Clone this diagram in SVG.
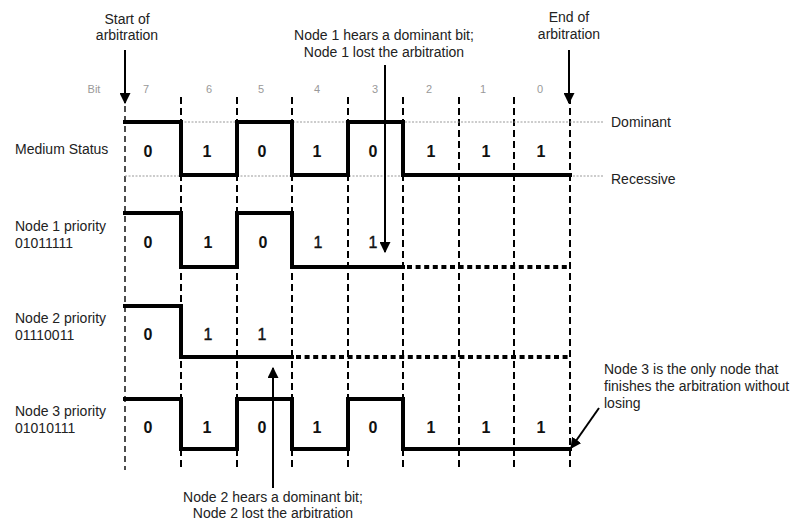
<svg xmlns="http://www.w3.org/2000/svg" width="797" height="522" viewBox="0 0 797 522">
  <defs>
    <marker id="head" viewBox="0 0 10 10" refX="9" refY="5" markerWidth="5.5" markerHeight="5.5" orient="auto" markerUnits="strokeWidth">
      <path d="M0,0 L10,5 L0,10 z" fill="#000"/>
    </marker>
    <style>
      text { font-family: "Liberation Sans", Arial, sans-serif; fill: #222; }
      .lbl { font-size: 14px; }
      .note { font-size: 14px; text-anchor: middle; }
      .bitno { font-size: 11px; fill: #999; text-anchor: middle; }
      .val { font-size: 16px; font-weight: bold; text-anchor: middle; fill: #111; }
      .valn { font-size: 16px; text-anchor: middle; fill: #111; stroke: #111; stroke-width: 0.4; }
      .grid { stroke: #000; stroke-width: 2; stroke-dasharray: 7 4; fill: none; }
      .grid0 { stroke: #000; stroke-width: 1.4; stroke-dasharray: 6 4; fill: none; }
      .level { stroke: #999; stroke-width: 1; stroke-dasharray: 2 1.5; fill: none; }
      .wave { stroke: #000; stroke-width: 4; fill: none; stroke-linejoin: miter; stroke-linecap: square; }
      .lost { stroke: #000; stroke-width: 4; stroke-dasharray: 5 3.6; fill: none; }
      .arrow { stroke: #000; stroke-width: 2; fill: none; }
    </style>
  </defs>

  <!-- bit time slot boundaries -->
  <g id="grid">
    <line class="grid0" x1="125" y1="106" x2="125" y2="470"/>
    <line class="grid" x1="181" y1="97" x2="181" y2="470"/>
    <line class="grid" x1="237" y1="97" x2="237" y2="470"/>
    <line class="grid" x1="292" y1="97" x2="292" y2="470"/>
    <line class="grid" x1="348" y1="97" x2="348" y2="470"/>
    <line class="grid" x1="403" y1="97" x2="403" y2="470"/>
    <line class="grid" x1="459" y1="97" x2="459" y2="470"/>
    <line class="grid" x1="514" y1="97" x2="514" y2="470"/>
    <line class="grid" x1="570" y1="97" x2="570" y2="470"/>
  </g>

  <!-- bit numbers -->
  <g id="bit-numbers">
    <text class="bitno" x="94" y="93">Bit</text>
    <text class="bitno" x="146" y="93">7</text>
    <text class="bitno" x="209" y="93">6</text>
    <text class="bitno" x="261" y="93">5</text>
    <text class="bitno" x="317" y="93">4</text>
    <text class="bitno" x="375" y="93">3</text>
    <text class="bitno" x="429" y="93">2</text>
    <text class="bitno" x="483" y="93">1</text>
    <text class="bitno" x="540" y="93">0</text>
  </g>

  <!-- bus levels -->
  <g id="levels">
    <line class="level" x1="125" y1="122" x2="604" y2="122"/>
    <line class="level" x1="125" y1="176" x2="604" y2="176"/>
    <text class="lbl" x="611" y="127">Dominant</text>
    <text class="lbl" x="611" y="184">Recessive</text>
  </g>

  <!-- medium status -->
  <g id="medium">
    <text class="lbl" x="15" y="154">Medium Status</text>
    <path class="wave" d="M125,122 H181 V175 H237 V122 H292 V175 H348 V122 H403 V175 H570"/>
    <text class="val" x="148" y="157">0</text>
    <text class="val" x="207" y="157">1</text>
    <text class="val" x="262" y="157">0</text>
    <text class="val" x="317" y="157">1</text>
    <text class="val" x="373" y="157">0</text>
    <text class="val" x="431" y="157">1</text>
    <text class="val" x="486" y="157">1</text>
    <text class="val" x="541" y="157">1</text>
  </g>

  <!-- node 1 -->
  <g id="node1">
    <text class="lbl" x="15" y="231">Node 1 priority</text>
    <text class="lbl" x="15" y="248">01011111</text>
    <path class="wave" d="M125,213 H181 V267 H237 V213 H292 V267 H403"/>
    <line class="lost" x1="407" y1="267" x2="570" y2="267"/>
    <text class="val" x="148" y="248">0</text>
    <text class="val" x="208" y="248">1</text>
    <text class="val" x="263" y="248">0</text>
    <text class="valn" x="318" y="248">1</text>
    <text class="valn" x="373" y="248">1</text>
  </g>

  <!-- node 2 -->
  <g id="node2">
    <text class="lbl" x="15" y="323">Node 2 priority</text>
    <text class="lbl" x="15" y="340">01110011</text>
    <path class="wave" d="M125,306 H181 V357 H292"/>
    <line class="lost" x1="296" y1="357" x2="570" y2="357"/>
    <text class="val" x="148" y="340">0</text>
    <text class="valn" x="208" y="340">1</text>
    <text class="valn" x="262" y="340">1</text>
  </g>

  <!-- node 3 -->
  <g id="node3">
    <text class="lbl" x="15" y="416">Node 3 priority</text>
    <text class="lbl" x="15" y="433">01010111</text>
    <path class="wave" d="M125,399 H181 V449 H237 V399 H292 V449 H348 V399 H403 V449 H570"/>
    <text class="val" x="148" y="433">0</text>
    <text class="val" x="207" y="433">1</text>
    <text class="val" x="262" y="433">0</text>
    <text class="val" x="317" y="433">1</text>
    <text class="val" x="373" y="433">0</text>
    <text class="val" x="431" y="433">1</text>
    <text class="val" x="486" y="433">1</text>
    <text class="val" x="541" y="433">1</text>
  </g>

  <!-- annotations -->
  <g id="start">
    <text class="note" x="127" y="24">Start of</text>
    <text class="note" x="127" y="40">arbitration</text>
  </g>
  <g id="end">
    <text class="note" x="569" y="22">End of</text>
    <text class="note" x="569" y="39">arbitration</text>
  </g>
  <g id="node1-lost">
    <text class="note" x="384" y="40">Node 1 hears a dominant bit;</text>
    <text class="note" x="384" y="57">Node 1 lost the arbitration</text>
  </g>
  <g id="node2-lost">
    <text class="note" x="273" y="502">Node 2 hears a dominant bit;</text>
    <text class="note" x="273" y="518">Node 2 lost the arbitration</text>
  </g>
  <g id="node3-wins">
    <text class="lbl" x="604" y="374">Node 3 is the only node that</text>
    <text class="lbl" x="604" y="391">finishes the arbitration without</text>
    <text class="lbl" x="604" y="408">losing</text>
  </g>

  <!-- pointer arrows -->
  <g id="connectors">
    <line class="arrow" x1="125" y1="50" x2="125" y2="103" marker-end="url(#head)"/>
    <line class="arrow" x1="569" y1="50" x2="569" y2="103" marker-end="url(#head)"/>
    <line class="arrow" x1="385" y1="65" x2="385" y2="252" marker-end="url(#head)"/>
    <line class="arrow" x1="273" y1="488" x2="273" y2="368" marker-end="url(#head)"/>
    <line class="arrow" x1="599" y1="408" x2="571" y2="448" marker-end="url(#head)"/>
  </g>
</svg>
